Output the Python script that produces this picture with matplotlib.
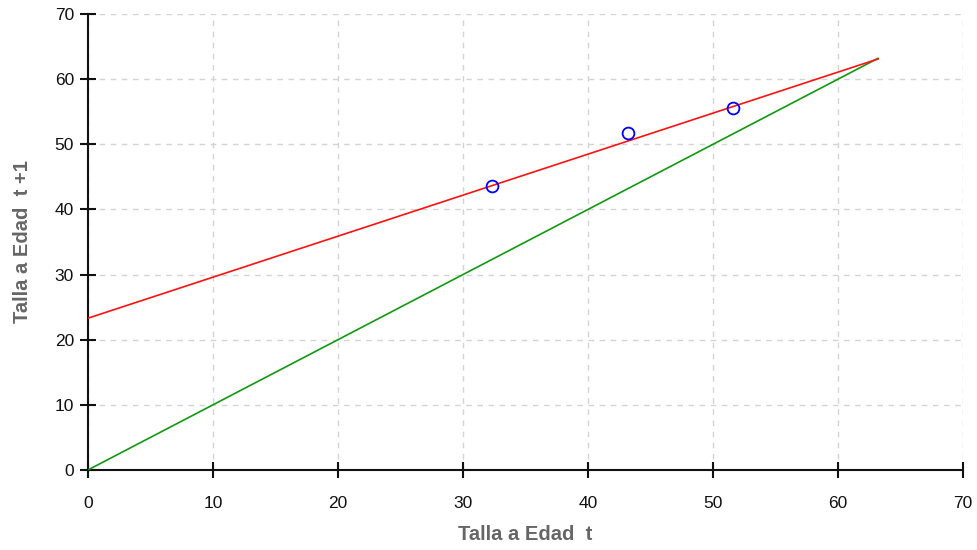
import matplotlib
matplotlib.use("Agg")
import matplotlib.pyplot as plt

plt.rcParams['font.family'] = ['Liberation Sans', 'DejaVu Sans']

# Observed points
obs_x = [32.3, 43.2, 51.6]
obs_y = [43.6, 51.7, 55.6]

# Fitted line (red) endpoints
fit_x = [0.0, 63.2]
fit_y = [23.3, 63.1]

# Identity line (green)
id_x = [0.0, 63.2]
id_y = [0.0, 63.2]

ticks = [0, 10, 20, 30, 40, 50, 60, 70]

fig = plt.figure(figsize=(9.77, 5.5), dpi=100)
ax = fig.add_axes([0.090, 0.1455, 0.8957, 0.829])

ax.plot(id_x, id_y, color='#119911', lw=1.2, zorder=3)
ax.plot(fit_x, fit_y, color='#ff1111', lw=1.2, zorder=3)
ax.plot(obs_x, obs_y, linestyle='none', marker='o', markersize=8.5,
        markerfacecolor='none', markeredgecolor='#0000ff', markeredgewidth=1.3, zorder=4)

ax.set_xlim(0, 70)
ax.set_ylim(0, 70)
ax.set_xticks(ticks)
ax.set_yticks(ticks)
ax.grid(True, color='#d4d4d4', linestyle=(0, (4, 4)), linewidth=1)
ax.set_axisbelow(True)

for s in ['top', 'right']:
    ax.spines[s].set_visible(False)
for s in ['left', 'bottom']:
    ax.spines[s].set_linewidth(1.5)
    ax.spines[s].set_color('#111111')

ax.tick_params(axis='both', direction='inout', length=12, width=1.5,
               labelsize=12.5, colors='#111111', pad=4)
ax.tick_params(axis='x', pad=13)

ax.set_xlabel('Talla a Edad  t', fontsize=14.5, fontweight='bold', color='#666666', labelpad=10)
ax.set_ylabel('Talla a Edad  t +1', fontsize=14.5, fontweight='bold', color='#666666', labelpad=16)

fig.savefig('out.png', dpi=100)
